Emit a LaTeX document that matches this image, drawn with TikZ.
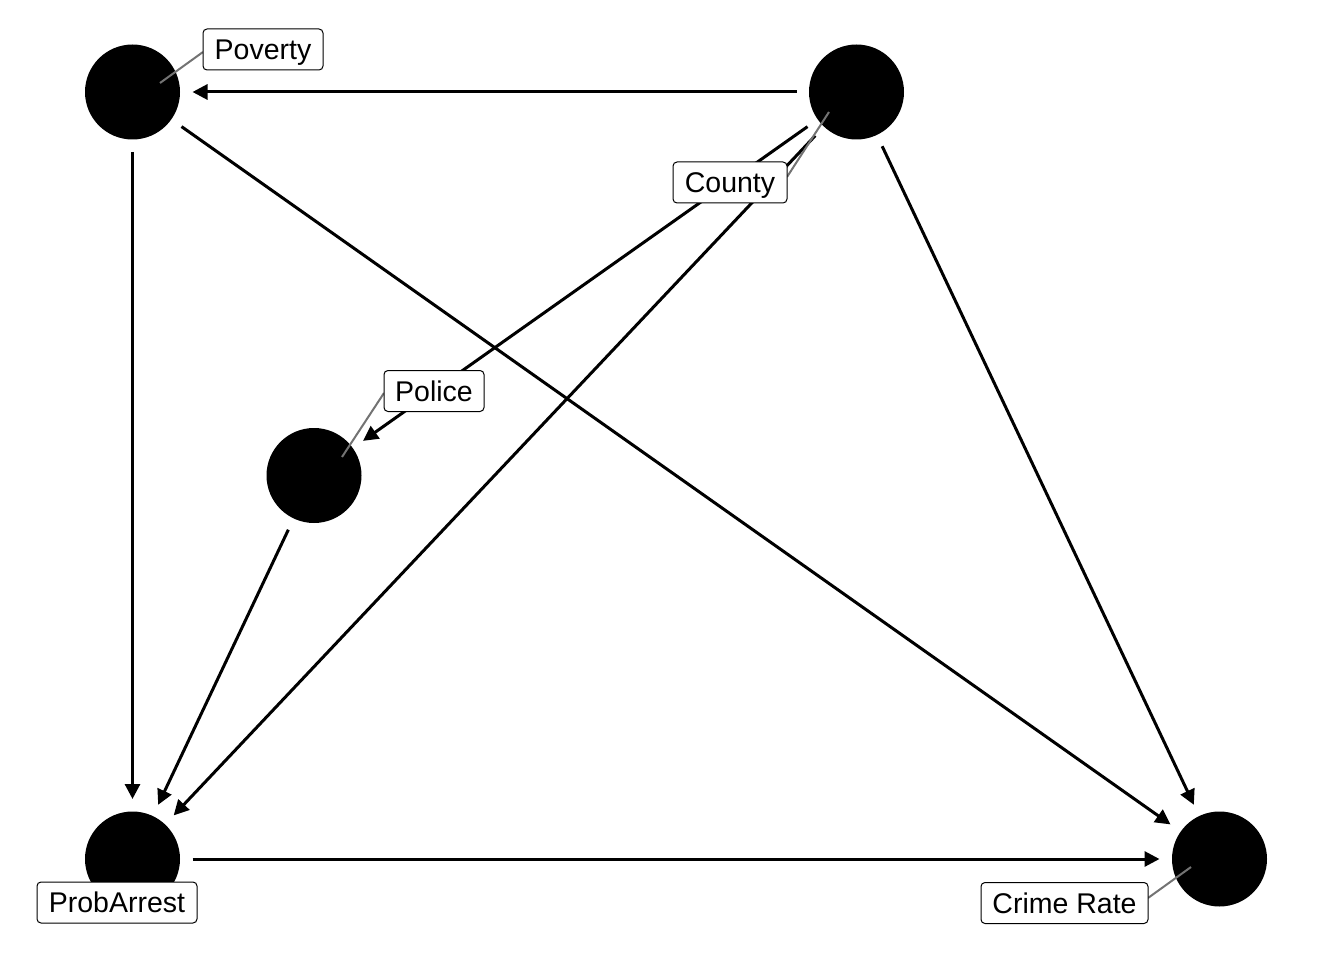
\documentclass[tikz,border=0pt]{standalone}
\usepackage{fontspec}
\setmainfont{Liberation Sans}
\usetikzlibrary{arrows.meta}
\tikzset{
  dot/.style={circle, fill=black, minimum size=95pt, inner sep=0pt, outer sep=0pt},
  edge/.style={-{Triangle[length=15pt,width=15pt]}, line width=3pt, shorten <=12.5pt, shorten >=12.5pt},
  leader/.style={draw=black!55, line width=2pt},
  lab/.style={draw=black, fill=white, rounded corners=4pt, line width=1pt, font=\fontsize{28.5}{32}\selectfont, minimum height=41pt, text height=20pt, text depth=0pt, inner xsep=0pt, inner ysep=0pt, outer sep=0pt}
}
\begin{document}
\begin{tikzpicture}[x=1pt,y=-1pt]
\useasboundingbox (0,0) rectangle (1344,960);
% nodes
\node[dot] (pov) at (132.5,92) {};
\node[dot] (cty) at (856.5,92) {};
\node[dot] (pol) at (314,475.5) {};
\node[dot] (pa) at (132.5,859) {};
\node[dot] (cr) at (1219.5,859) {};
% edges
\draw[edge] (cty) -- (pov);
\draw[edge] (pov) -- (pa);
\draw[edge] (pov) -- (cr);
\draw[edge] (cty) -- (pol);
\draw[edge] (cty) -- (pa);
\draw[edge] (cty) -- (cr);
\draw[edge] (pol) -- (pa);
\draw[edge] (pa) -- (cr);
% leader anchors
\coordinate (povA) at (160,83);
\coordinate (ctyA) at (829,112);
\coordinate (polA) at (342,457);
\coordinate (crA) at (1191,867);
\coordinate (povB) at (203,52);
\coordinate (ctyB) at (787,177);
\coordinate (polB) at (384,393);
\coordinate (crB) at (1148,898);
\draw[leader] (povA) -- (povB);
\draw[leader] (ctyA) -- (ctyB);
\draw[leader] (polA) -- (polB);
\draw[leader] (crA) -- (crB);
% labels
\node[lab, minimum width=120pt] (povL) at (263,49.5) {Poverty};
\node[lab, minimum width=114pt] (ctyL) at (730,182.5) {County};
\node[lab, minimum width=100pt] (polL) at (434,391) {Police};
\node[lab, minimum width=160pt] (paL) at (117,902.5) {ProbArrest};
\node[lab, minimum width=167pt] (crL) at (1064.5,903) {Crime Rate};
\end{tikzpicture}
\end{document}
